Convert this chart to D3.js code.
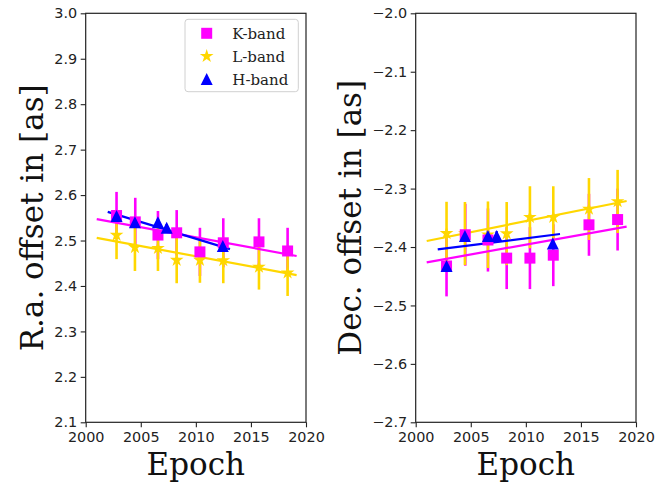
<!DOCTYPE html>
<html>
<head>
<meta charset="utf-8">
<script src="https://cdn.jsdelivr.net/npm/d3@7"></script>
<style>
  html, body { margin: 0; padding: 0; background: #fff; }
  svg { display: block; }
</style>
</head>
<body>
<svg id="chart" width="670" height="485"></svg>
<script>
// Observation epochs per band
const epochsK = [2002.8, 2004.5, 2006.56, 2008.26, 2010.37, 2012.49, 2015.73, 2018.33];
const epochsL = [2002.8, 2004.47, 2006.56, 2008.26, 2010.37, 2012.49, 2015.73, 2018.33];
const epochsH = [2002.8, 2004.47, 2006.56, 2007.35, 2012.45];

// Right ascension offsets [as]
const raK = [2.555, 2.541, 2.512, 2.517, 2.475, 2.495, 2.497, 2.477];
const raKerr = [0.052, 0.053, 0.053, 0.05, 0.053, 0.054, 0.052, 0.051];
const raL = [2.512, 2.485, 2.483, 2.457, 2.457, 2.456, 2.442, 2.429];
const raLerr = [0.053, 0.052, 0.05, 0.051, 0.05, 0.05, 0.05, 0.051];
const raH = [2.554, 2.540, 2.540, 2.528, 2.488];
const raHerr = [0.008, 0.008, 0.008, 0.008, 0.008];

// Declination offsets [as]
const decK = [-2.4325, -2.379, -2.388, -2.419, -2.419, -2.414, -2.362, -2.353];
const decKerr = [0.052, 0.053, 0.054, 0.053, 0.053, 0.053, 0.053, 0.053];
const decL = [-2.3766, -2.377, -2.379, -2.377, -2.349, -2.349, -2.335, -2.322];
const decLerr = [0.054, 0.054, 0.057, 0.054, 0.053, 0.053, 0.053, 0.054];
const decH = [-2.4325, -2.381, -2.381, -2.381, -2.394];
const decHerr = [0.008, 0.008, 0.008, 0.008, 0.008];

// Linear fits: [start epoch, end epoch], [start value, end value]
const fitEpochsK = [2001.0, 2019.15];
const fitEpochsL = [2001.0, 2019.15];
const fitEpochsH = [2002.0, 2013.1];
const raFitK = [2.547, 2.466];
const raFitL = [2.506, 2.424];
const raFitH = [2.563, 2.481];
const decFitK = [-2.4262, -2.3652];
const decFitL = [-2.3897, -2.3212];
const decFitH = [-2.404, -2.3777];

// Axis ticks
const xTicks = [2000, 2005, 2010, 2015, 2020];
const raTicks = [2.1, 2.2, 2.3, 2.4, 2.5, 2.6, 2.7, 2.8, 2.9, 3.0];
const decTicks = [-2.7, -2.6, -2.5, -2.4, -2.3, -2.2, -2.1, -2.0];

const bandNames = ["K-band", "L-band", "H-band"];
const colors = { K: "#ff00ff", L: "#ffd700", H: "#0000ff" };

const svg = d3.select("#chart");
const tickFont = "'DejaVu Sans', sans-serif";
const serif = "'DejaVu Serif', serif";

// Marker shapes
function squarePath(s) { const h = s / 2; return `M${-h},${-h}H${h}V${h}H${-h}Z`; }
function trianglePath(s) { const h = s / 2; return `M0,${-h}L${h},${h}L${-h},${h}Z`; }
function starPath(R) {
  const r = R * 0.381966; let p = "";
  for (let i = 0; i < 10; i++) {
    const rad = i % 2 === 0 ? R : r;
    const a = -Math.PI / 2 + i * Math.PI / 5;
    p += (i === 0 ? "M" : "L") + (rad * Math.cos(a)).toFixed(2) + "," + (rad * Math.sin(a)).toFixed(2);
  }
  return p + "Z";
}
const markers = { K: squarePath(11), L: starPath(7.2), H: trianglePath(12) };

const fmt = d => d3.format(".1f")(d).replace("-", "\u2212");

function panel(opts) {
  const x = d3.scaleLinear().domain([2000, 2020]).range([opts.left, opts.left + 220.3]);
  const y = d3.scaleLinear().domain(opts.domain).range([422.3, 13.3]);
  const g = svg.append("g");

  // axes
  const ax = g.append("g").attr("transform", `translate(0,${y.range()[0]})`)
    .call(d3.axisBottom(x).tickValues(xTicks).tickFormat(d3.format("d")).tickSize(5).tickPadding(4));
  const ay = g.append("g").attr("transform", `translate(${x.range()[0]},0)`)
    .call(d3.axisLeft(y).tickValues(opts.ticks).tickFormat(fmt).tickSize(5).tickPadding(3.5));
  [ax, ay].forEach(a => {
    a.select(".domain").remove();
    a.selectAll("line").attr("stroke", "#222").attr("stroke-width", 1.1);
    a.selectAll("text").attr("fill", "#222").style("font-family", tickFont).style("font-size", "14.4px");
  });

  // error bars: K, L, H
  const series = [
    { key: "K", ep: epochsK, v: opts.K, e: opts.Ke },
    { key: "L", ep: epochsL, v: opts.L, e: opts.Le },
    { key: "H", ep: epochsH, v: opts.H, e: opts.He }
  ];
  series.forEach(s => {
    g.append("g").selectAll("line").data(s.v).join("line")
      .attr("x1", (d, i) => x(s.ep[i])).attr("x2", (d, i) => x(s.ep[i]))
      .attr("y1", (d, i) => y(d - s.e[i])).attr("y2", (d, i) => y(d + s.e[i]))
      .attr("stroke", colors[s.key]).attr("stroke-width", 2.6);
  });

  // fit lines
  const fits = [
    { key: "K", ep: fitEpochsK, v: opts.fitK },
    { key: "L", ep: fitEpochsL, v: opts.fitL },
    { key: "H", ep: fitEpochsH, v: opts.fitH }
  ];
  const lineGen = d3.line().x(d => x(d[0])).y(d => y(d[1]));
  fits.forEach(f => {
    g.append("path").attr("d", lineGen(f.ep.map((e, i) => [e, f.v[i]])))
      .attr("fill", "none").attr("stroke", colors[f.key]).attr("stroke-width", 2.2);
  });

  // markers: L, K, H
  [series[1], series[0], series[2]].forEach(s => {
    g.append("g").selectAll("path").data(s.v).join("path")
      .attr("d", markers[s.key])
      .attr("transform", (d, i) => `translate(${x(s.ep[i])},${y(d)})`)
      .attr("fill", colors[s.key]);
  });

  // frame
  g.append("rect").attr("x", x.range()[0]).attr("y", y.range()[1])
    .attr("width", x.range()[1] - x.range()[0]).attr("height", y.range()[0] - y.range()[1])
    .attr("fill", "none").attr("stroke", "#222").attr("stroke-width", 1.2);

  // axis labels
  g.append("text").attr("x", (x.range()[0] + x.range()[1]) / 2).attr("y", 475)
    .attr("text-anchor", "middle").style("font-family", serif).style("font-size", "31px")
    .attr("fill", "#111").text("Epoch");
  const cy = (y.range()[0] + y.range()[1]) / 2;
  g.append("text").attr("transform", `translate(${opts.labelX},${cy}) rotate(-90)`)
    .attr("text-anchor", "middle").style("font-family", serif).style("font-size", "31px")
    .attr("fill", "#111").text(opts.label);
  return { x, y, g };
}

panel({
  left: 85.7, domain: [2.1, 3.0], ticks: raTicks, labelX: 43,
  K: raK, Ke: raKerr, L: raL, Le: raLerr, H: raH, He: raHerr,
  fitK: raFitK, fitL: raFitL, fitH: raFitH, label: "R.a. offset in [as]"
});
panel({
  left: 415.7, domain: [-2.7, -2.0], ticks: decTicks, labelX: 361,
  K: decK, Ke: decKerr, L: decL, Le: decLerr, H: decH, He: decHerr,
  fitK: decFitK, fitL: decFitL, fitH: decFitH, label: "Dec. offset in [as]"
});

// legend
const lg = svg.append("g");
lg.append("rect").attr("x", 185).attr("y", 19.3).attr("width", 113.3).attr("height", 72.4)
  .attr("rx", 3).attr("fill", "#fff").attr("fill-opacity", 0.8)
  .attr("stroke", "#d0d0d0").attr("stroke-width", 1);
["K", "L", "H"].forEach((k, i) => {
  const cyL = 33.3 + i * 22.9;
  lg.append("path").attr("d", markers[k]).attr("transform", `translate(206.7,${cyL})`).attr("fill", colors[k]);
  lg.append("text").attr("x", 232.3).attr("y", cyL).attr("dy", "0.36em")
    .style("font-family", serif).style("font-size", "15px").attr("fill", "#222").text(bandNames[i]);
});
</script>
</body>
</html>
